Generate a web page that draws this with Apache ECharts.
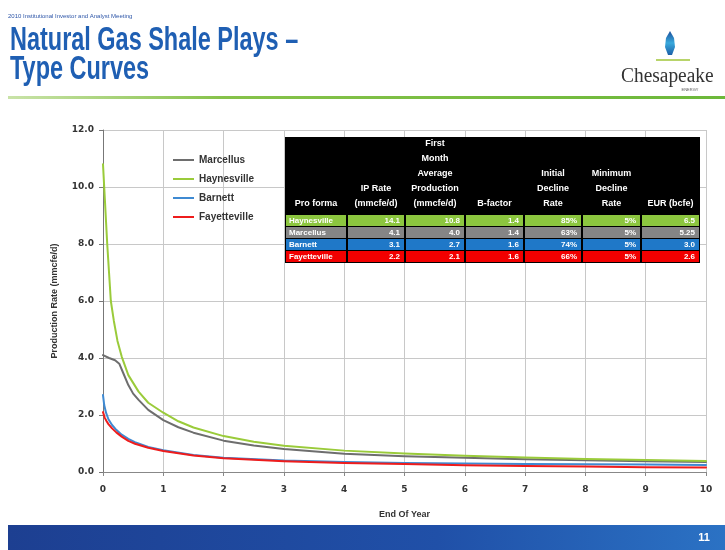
<!DOCTYPE html>
<html><head><meta charset="utf-8">
<script src="https://cdn.jsdelivr.net/npm/echarts@6/dist/echarts.min.js"></script>
<style>html,body{margin:0;padding:0;background:#fff}#c{width:725px;height:550px}</style>
</head><body><div id="c"></div><script>
// ---- data ----
const seriesNames = ['Marcellus', 'Haynesville', 'Barnett', 'Fayetteville'];
const marcellus = [[0,4.1],[0.1,4.0],[0.2,3.92],[0.27,3.8],[0.33,3.5],[0.42,3.05],[0.5,2.75],[0.59,2.53],[0.75,2.18],[1,1.82],[1.25,1.57],[1.5,1.38],[2,1.1],[2.5,0.93],[3,0.81],[4,0.64],[5,0.55],[6,0.5],[7,0.45],[8,0.41],[9,0.38],[10,0.35]];
const haynesville = [[0,10.8],[0.03,9.6],[0.05,8.8],[0.07,8.0],[0.1,7.0],[0.13,6.0],[0.18,5.3],[0.24,4.6],[0.31,4.05],[0.42,3.4],[0.59,2.82],[0.75,2.43],[1,2.08],[1.25,1.78],[1.5,1.56],[2,1.26],[2.5,1.06],[3,0.92],[4,0.75],[5,0.65],[6,0.57],[7,0.51],[8,0.46],[9,0.42],[10,0.39]];
const barnett = [[0,2.7],[0.02,2.35],[0.05,2.08],[0.09,1.85],[0.15,1.65],[0.22,1.48],[0.31,1.31],[0.42,1.16],[0.53,1.05],[0.75,0.88],[1,0.76],[1.5,0.6],[2,0.5],[3,0.4],[4,0.35],[5,0.32],[6,0.3],[7,0.28],[8,0.27],[9,0.26],[10,0.25]];
const fayetteville = [[0,2.1],[0.03,1.9],[0.06,1.78],[0.09,1.68],[0.15,1.53],[0.22,1.39],[0.31,1.24],[0.42,1.09],[0.53,0.99],[0.75,0.85],[1,0.74],[1.5,0.58],[2,0.48],[3,0.38],[4,0.32],[5,0.28],[6,0.24],[7,0.21],[8,0.19],[9,0.17],[10,0.16]];
const seriesData = [marcellus, haynesville, barnett, fayetteville];
const lineColors = ['#6e6e6e', '#9acb3a', '#3f8ad2', '#ee1c1c'];

const tableHeader = ['Pro forma', 'IP Rate\n(mmcfe/d)', 'First\nMonth\nAverage\nProduction\n(mmcfe/d)', 'B-factor', 'Initial\nDecline\nRate', 'Minimum\nDecline\nRate', 'EUR (bcfe)'];
const tableRowNames = ['Haynesville', 'Marcellus', 'Barnett', 'Fayetteville'];
const ipRate = ['14.1', '4.1', '3.1', '2.2'];
const firstMonth = ['10.8', '4.0', '2.7', '2.1'];
const bFactor = ['1.4', '1.4', '1.6', '1.6'];
const initialDecline = ['85%', '63%', '74%', '66%'];
const minDecline = ['5%', '5%', '5%', '5%'];
const eur = ['6.5', '5.25', '3.0', '2.6'];
const rowColors = ['#8cc63f', '#858585', '#1f78c8', '#f20000'];

// ---- layout ----
const colX = [285, 347, 405, 465, 524, 582, 641, 700];
const tblTop = 137, headBottom = 214, rowH = 12;

const g = [];
g.push({type:'text', left:8, top:13, z:100, style:{text:'2010 Institutional Investor and Analyst Meeting', fill:'#2e56a8', font:'6px "Liberation Sans", Arial'}});
g.push({type:'text', x:10, y:41, scaleX:0.69, z:100, style:{text:'Natural Gas Shale Plays \u2013', fill:'#1f5fb3', font:'bold 34px "Liberation Sans", Arial', verticalAlign:'middle'}});
g.push({type:'text', x:10, y:70, scaleX:0.69, z:100, style:{text:'Type Curves', fill:'#1f5fb3', font:'bold 34px "Liberation Sans", Arial', verticalAlign:'middle'}});
g.push({type:'rect', shape:{x:8, y:96, width:717, height:3}, z:100, style:{fill:new echarts.graphic.LinearGradient(0,0,1,0,[{offset:0,color:'#c9e3a8'},{offset:0.3,color:'#86c24a'},{offset:1,color:'#6cb83a'}])}});
// logo
g.push({type:'polygon', z:100, shape:{points:[[670,31],[674,38],[675,47],[672,55],[668,55],[665,47],[666,38]]}, style:{fill:new echarts.graphic.LinearGradient(0,0,0,1,[{offset:0,color:'#1b4f9c'},{offset:0.5,color:'#39a9dc'},{offset:1,color:'#1b5fa8'}])}});
g.push({type:'line', z:100, shape:{x1:656, y1:60, x2:690, y2:60}, style:{stroke:'#b8d46a', lineWidth:2}});
g.push({type:'text', x:621, y:77, scaleX:0.97, z:100, style:{text:'Chesapeake', fill:'#333', font:'20px "Liberation Serif", "DejaVu Serif", serif', verticalAlign:'middle'}});
g.push({type:'text', x:690, y:90, z:100, style:{text:'ENERGY', fill:'#555', font:'4px "Liberation Sans", Arial', align:'center', verticalAlign:'middle'}});
// bottom bar
g.push({type:'rect', z:100, shape:{x:8, y:525, width:717, height:25}, style:{fill:new echarts.graphic.LinearGradient(0,0,1,0,[{offset:0,color:'#1d3f91'},{offset:0.6,color:'#2050a8'},{offset:1,color:'#2b72c4'}])}});
g.push({type:'text', x:704, y:538, z:101, style:{text:'11', fill:'#fff', font:'bold 11px "Liberation Sans", Arial', align:'center', verticalAlign:'middle'}});
// table
g.push({type:'rect', z:100, shape:{x:colX[0], y:tblTop, width:colX[7]-colX[0], height:headBottom+4*rowH+1-tblTop}, style:{fill:'#000'}});
for (let c = 0; c < 7; c++) {
  g.push({type:'text', z:101, x:(colX[c]+colX[c+1])/2, y:headBottom-3, style:{text:tableHeader[c], fill:'#fff', font:'bold 9px "Liberation Sans", Arial', align:'center', verticalAlign:'bottom', lineHeight:15}});
}
const cols = [ipRate, firstMonth, bFactor, initialDecline, minDecline, eur];
for (let r = 0; r < 4; r++) {
  const y = headBottom + 1 + r*rowH;
  for (let c = 0; c < 7; c++) {
    g.push({type:'rect', z:101, shape:{x:colX[c]+1, y:y, width:colX[c+1]-colX[c]-2, height:rowH-1}, style:{fill:rowColors[r]}});
    const txt = c === 0 ? tableRowNames[r] : cols[c-1][r];
    g.push({type:'text', z:102, x: c === 0 ? colX[0]+4 : colX[c+1]-5, y:y+(rowH-1)/2, style:{text:txt, fill:'#fff', font:'bold 8px "Liberation Sans", Arial', align: c === 0 ? 'left' : 'right', verticalAlign:'middle'}});
  }
}

const chart = echarts.init(document.getElementById('c'));
chart.setOption({
  animation:false,
  backgroundColor:'#fff',
  grid:{left:103, right:19, top:130, bottom:78},
  legend:{
    orient:'vertical', left:168, top:150, itemGap:9, itemWidth:21, itemHeight:2, icon:'rect',
    data:seriesNames,
    textStyle:{fontSize:10, fontWeight:'bold', color:'#333', fontFamily:'"Liberation Sans", Arial'}
  },
  xAxis:{
    type:'value', min:0, max:10, interval:1,
    name:'End Of Year', nameLocation:'middle', nameGap:38,
    nameTextStyle:{fontSize:9, fontWeight:'bold', color:'#333', fontFamily:'"Liberation Sans", Arial'},
    axisLine:{show:true, lineStyle:{color:'#888', width:1}},
    axisTick:{show:true, length:4, lineStyle:{color:'#888'}},
    axisLabel:{fontSize:9, fontWeight:'bold', color:'#333', margin:13, fontFamily:'"DejaVu Sans", Verdana'},
    splitLine:{show:true, lineStyle:{color:'#c8c8c8', width:1}}
  },
  yAxis:{
    type:'value', min:0, max:12, interval:2,
    name:'Production Rate (mmcfe/d)', nameLocation:'middle', nameGap:44,
    nameTextStyle:{fontSize:9, fontWeight:'bold', color:'#333', fontFamily:'"Liberation Sans", Arial'},
    axisLine:{show:true, lineStyle:{color:'#777', width:1}},
    axisTick:{show:true, length:4, lineStyle:{color:'#777'}},
    axisLabel:{fontSize:9, fontWeight:'bold', color:'#333', margin:9, fontFamily:'"DejaVu Sans", Verdana', formatter:v => v.toFixed(1)},
    splitLine:{show:true, lineStyle:{color:'#c8c8c8', width:1}}
  },
  series: seriesNames.map((n, i) => ({
    name:n, type:'line', data:seriesData[i], showSymbol:false, symbol:'none',
    smooth:false, lineStyle:{color:lineColors[i], width:2, join:'round', cap:'round'}, itemStyle:{color:lineColors[i]}
  })),
  graphic:g
});
</script></body></html>
